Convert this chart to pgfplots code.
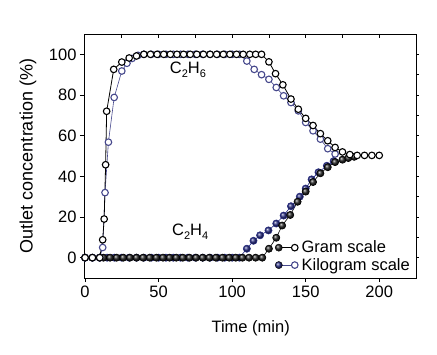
\documentclass[border=0pt]{standalone}
\usepackage{pgfplots}
\pgfplotsset{compat=1.18}
\usepackage{fontspec}
\setmainfont{Liberation Sans}
\definecolor{navy}{RGB}{40,45,130}
\definecolor{navyo}{RGB}{70,72,140}
\newcommand\ff{\fontsize{16.5bp}{19bp}\selectfont}
\newcommand\fl{\fontsize{18bp}{21bp}\selectfont}
\newcommand\sub[1]{\raisebox{-0.45ex}{\fontsize{11bp}{12bp}\selectfont #1}}
\begin{document}
\begin{tikzpicture}
\path[use as bounding box] (-84bp,-77bp) rectangle (353bp,278bp);
\pgfplotsset{base/.style={scale only axis, width=332bp, height=244bp,
  xmin=-0.7, xmax=225, ymin=-10, ymax=110, clip=false,
  axis line style={line width=0.8bp},
  tick style={black, line width=0.8bp}}}
% top ticks
\begin{axis}[base, xtick={25,50,...,200}, xticklabels={}, ytick=\empty,
  xtick pos=top, tick align=inside, major tick length=4bp]
\end{axis}
% right ticks
\begin{axis}[base, ytick={0,10,...,100}, yticklabels={}, xtick=\empty,
  ytick pos=right, tick align=outside, major tick length=2.5bp]
\end{axis}
\begin{axis}[base,
  xtick={0,50,100,150,200}, ytick={0,20,...,100},
  xtick pos=bottom, ytick pos=left, tick align=outside,
  major tick length=4bp,
  /pgf/number format/assume math mode=true,
  tick label style={font=\ff},
  xlabel={Time (min)}, ylabel={Outlet concentration (\%)},
  xlabel style={font=\ff, at={(axis description cs:0.502,-0.205)}, anchor=center},
  ylabel style={font=\fl, at={(axis description cs:-0.169,0.5)}, anchor=center},
  legend style={draw=none, fill=none, at={(axis description cs:1,0)}, anchor=south east,
    xshift=-1bp, yshift=2bp, font=\ff, row sep=0bp, column sep=1bp},
  legend cell align=left,
]
% Kilogram scale C2H4 (filled blue)
\addplot[navy, line width=0.6bp, mark=ball, mark size=3.6bp, mark options={ball color=navy}, forget plot] coordinates {
(0,0)(5,0)(10,0)(15,0)(20,0)(25,0)(30,0)(35,0)(40,0)(45,0)(50,0)(55,0)(60,0)(65,0)(70,0)(75,0)(80,0)(85,0)(90,0)(95,0)(100,0)(105,0)
(110,4.4)(114.5,8.3)(119,11)(124.7,13.4)(130,16.8)(135,20.7)(140,25.3)(146,30)(150,34)(154,38.5)(158.7,42)(164.4,45.2)(169,47.5)};
% Gram scale C2H4 (filled black)
\addplot[black, line width=0.6bp, mark=ball, mark size=3.6bp, mark options={ball color=black!85}, forget plot] coordinates {
(0,0)(5,0)(10,0)(12.5,0)(17,0)(21.5,0)(26,0)(30.5,0)(35,0)(39.5,0)(44,0)(48.5,0)(53,0)(57.5,0)(62,0)(66.5,0)(71,0)(75.5,0)(80,0)(84.5,0)(89,0)(93.5,0)(98,0)(102.5,0)(107,0)(111.5,0)(116,0)(120.5,0)
(125,4.4)(130,9.8)(134,15.8)(139.5,21)(144.5,27.5)(150,32.5)(155,37.2)(160,41.5)(165,44.5)(170,47)(175,48.2)(179,49)(183,49.6)};
% Kilogram scale C2H6 (open blue)
\addplot[navyo, line width=0.6bp, mark=*, mark size=3.3bp, mark options={fill=white, draw=navyo, line width=1.1bp}, forget plot] coordinates {
(0,0)(5,0)(10,0)(12,5)(13.6,32)(15.9,56.8)(19.8,78.8)(25,91.8)(28.5,95.6)(32,98)(36,99.5)(40,100)(45,100)(50,100)(55,100)(60,100)(65,100)(70,100)(75,100)(80,100)(85,100)(90,100)(95,100)(100,100)(105,100)
(110,96.7)(115,92.6)(120,90)(125,87.7)(130,83.7)(135,79.6)(140,76.3)(145,72.2)(150,66.5)(155,62.4)(160,58.3)(165,53.6)(170,51)};
% Gram scale C2H6 (open black)
\addplot[black, line width=0.8bp, mark=*, mark size=3.3bp, mark options={fill=white, draw=black, line width=1.1bp}, forget plot] coordinates {
(0,0)(5,0)(10,0)(12,8.8)(13,19)(14,45.7)(14.7,72)(19.5,92.6)(25,96.2)(30,98.2)(35,99.2)(40,100)(44.5,100)(49,100)(53.5,100)(58,100)(62.5,100)(67,100)(71.5,100)(76,100)(80.5,100)(85,100)(89.5,100)(94,100)(98.5,100)(103,100)(107.5,100)(112,100)(116,100)(120,100)
(125,96.3)(129.5,90.5)(134.5,85)(140,78)(145,73)(150,68.5)(155,65)(160,61)(165,57.5)(170,54.2)(175,52)(180,50.7)(185,50.3)(190,50.3)(195,50.3)(200,50.3)};
\addlegendimage{legend image code/.code={
  \draw[black, line width=0.8bp] (0bp,0bp) -- (16bp,0bp);
  \shade[ball color=black!85] (0bp,0bp) circle (3.6bp);
  \draw[black, fill=white, line width=1.1bp] (16bp,0bp) circle (3.3bp);}}
\addlegendentry{Gram scale}
\addlegendimage{legend image code/.code={
  \draw[navyo, line width=0.8bp] (0bp,0bp) -- (16bp,0bp);
  \shade[ball color=navy] (0bp,0bp) circle (3.6bp);
  \draw[navyo, fill=white, line width=1.1bp] (16bp,0bp) circle (3.3bp);}}
\addlegendentry{Kilogram scale}
\node[font=\ff] at (axis cs:70,92.6) {C\sub{2}H\sub{6}};
\node[font=\ff] at (axis cs:71.5,12.7) {C\sub{2}H\sub{4}};
\end{axis}
\end{tikzpicture}
\end{document}
